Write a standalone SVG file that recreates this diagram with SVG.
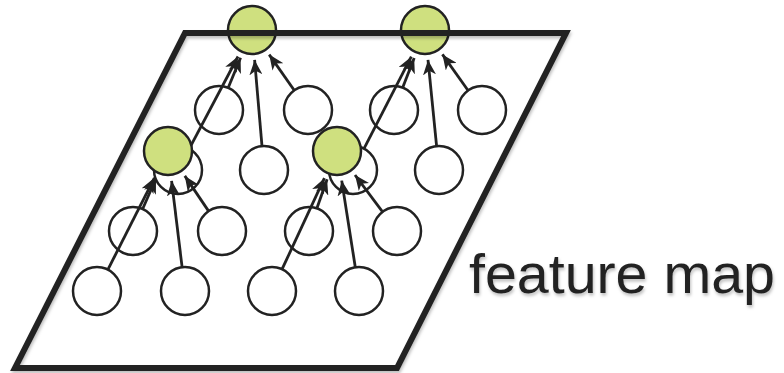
<svg xmlns="http://www.w3.org/2000/svg" width="784" height="373" viewBox="0 0 784 373">
  <style>
    .w { fill: #ffffff; stroke: #222222; stroke-width: 2.5; }
    .g { fill: #cfe07f; stroke: #222222; stroke-width: 2.5; }
    .c { stroke: #222222; stroke-width: 2.8; fill: none; marker-end: url(#ah); }
    .frame { fill: none; stroke: #222222; stroke-width: 6; stroke-linejoin: miter; filter: url(#sh); }
    .lbl { font-family: "Liberation Sans", Arial, Helvetica, sans-serif; font-size: 55px; fill: #222222; filter: url(#sh); }
  </style>
  <defs>
    <marker id="ah" markerUnits="userSpaceOnUse" markerWidth="16" markerHeight="13" refX="15" refY="6.5" orient="auto" viewBox="0 0 16 13">
      <path d="M0,0 L15,6.5 L0,13 L4,6.5 Z" fill="#222222"/>
    </marker>
    <filter id="sh" x="-10%" y="-10%" width="120%" height="130%">
      <feDropShadow dx="1" dy="2.5" stdDeviation="1.5" flood-color="#000000" flood-opacity="0.25"/>
    </filter>
  </defs>
  <rect width="784" height="373" fill="#ffffff"/>

  <!-- input layer circles -->
  <g id="n_b1"><circle class="w" cx="97" cy="291" r="24"/></g>
  <g id="n_b2"><circle class="w" cx="185" cy="291" r="24"/></g>
  <g id="n_b3"><circle class="w" cx="272" cy="291" r="24"/></g>
  <g id="n_b4"><circle class="w" cx="359" cy="291" r="24"/></g>
  <g id="n_m1"><circle class="w" cx="133" cy="231" r="24"/></g>
  <g id="n_m2"><circle class="w" cx="222" cy="231" r="24"/></g>
  <g id="n_m3"><circle class="w" cx="309" cy="231" r="24"/></g>
  <g id="n_m4"><circle class="w" cx="397" cy="231" r="24"/></g>
  <g id="n_r1"><circle class="w" cx="178" cy="170" r="24"/></g>
  <g id="n_r2"><circle class="w" cx="264" cy="170" r="24"/></g>
  <g id="n_r3"><circle class="w" cx="353" cy="170" r="24"/></g>
  <g id="n_r4"><circle class="w" cx="439" cy="170" r="24"/></g>
  <g id="n_u1"><circle class="w" cx="219" cy="110" r="24"/></g>
  <g id="n_u2"><circle class="w" cx="308" cy="110" r="24"/></g>
  <g id="n_u3"><circle class="w" cx="394" cy="110" r="24"/></g>
  <g id="n_u4"><circle class="w" cx="482" cy="110" r="24"/></g>

  <g id="connectors">
    <!-- into top-left green -->
    <line class="c" x1="189.2" y1="148.8" x2="238.0" y2="56.5"/>
    <line class="c" x1="228.2" y1="87.8" x2="240.6" y2="57.7"/>
    <line class="c" x1="262.0" y1="146.1" x2="254.6" y2="59.9"/>
    <line class="c" x1="294.2" y1="90.3" x2="269.2" y2="54.6"/>
    <!-- into top-right green -->
    <line class="c" x1="364.0" y1="148.7" x2="411.3" y2="56.7"/>
    <line class="c" x1="402.7" y1="87.6" x2="414.2" y2="58.0"/>
    <line class="c" x1="436.6" y1="146.1" x2="428.0" y2="59.9"/>
    <line class="c" x1="468.1" y1="90.5" x2="442.4" y2="54.4"/>
    <!-- into mid-left green -->
    <line class="c" x1="107.9" y1="269.6" x2="154.4" y2="177.8"/>
    <line class="c" x1="142.6" y1="209.0" x2="156.0" y2="178.5"/>
    <line class="c" x1="182.1" y1="267.2" x2="171.6" y2="180.8"/>
    <line class="c" x1="208.6" y1="211.1" x2="184.8" y2="175.9"/>
    <!-- into mid-right green -->
    <line class="c" x1="282.1" y1="269.2" x2="324.4" y2="178.2"/>
    <line class="c" x1="316.9" y1="208.3" x2="327.1" y2="179.3"/>
    <line class="c" x1="355.3" y1="267.3" x2="341.7" y2="180.6"/>
    <line class="c" x1="382.6" y1="211.8" x2="355.0" y2="175.0"/>
  </g>

  <g id="n_g1"><circle class="g" cx="168" cy="151" r="24"/></g>
  <g id="n_g2"><circle class="g" cx="337" cy="151" r="24"/></g>
  <g id="n_t1"><circle class="g" cx="252" cy="30" r="24"/></g>
  <g id="n_t2"><circle class="g" cx="425" cy="30" r="24"/></g>

  <g id="feature_map">
    <polygon class="frame" points="185,33 566,33 397,368 15,368"/>
    <text class="lbl" x="469" y="293" textLength="306" lengthAdjust="spacingAndGlyphs">feature map</text>
  </g>
</svg>
